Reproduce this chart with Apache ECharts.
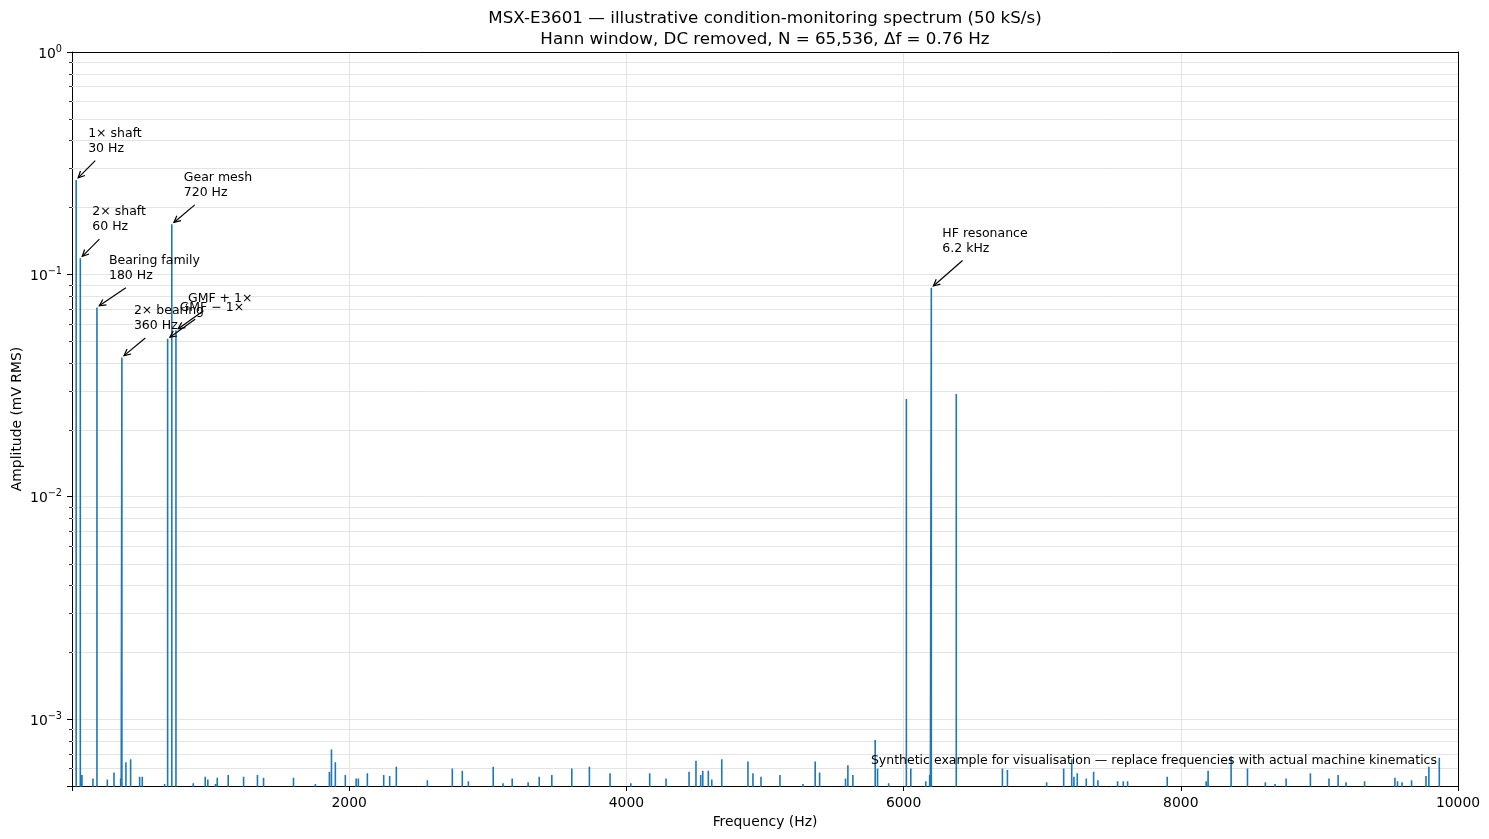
<!DOCTYPE html>
<html><head><meta charset="utf-8">
<script src="https://cdn.jsdelivr.net/npm/echarts@6/dist/echarts.min.js"></script>
<style>html,body{margin:0;padding:0;background:#fff}#c{width:1489px;height:839px}</style>
</head><body><div id="c"></div>
<script>
const FONT = '"DejaVu Sans"';

// ---- data ----
const peakFreqs = [30, 60, 180, 360, 690, 720, 750, 6020, 6200, 6380];
const peakAmps  = [0.266, 0.118, 0.071, 0.0423, 0.0513, 0.168, 0.056, 0.0275, 0.087, 0.029];

const noiseFreqs = [72, 151, 255, 303, 351, 389, 423, 488, 507, 668, 875, 961, 980, 1035, 1048, 1127, 1238, 1338, 1382,
  1598, 1756, 1857, 1872, 1900, 1972, 2050, 2066, 2131, 2249, 2292, 2340, 2564, 2744, 2816, 2860, 3039, 3110, 3176,
  3291, 3371, 3462, 3606, 3733, 3882, 4032, 4168, 4286, 4452, 4502, 4536, 4551, 4591, 4616, 4688, 4877, 4913, 4971,
  5108, 5274, 5362, 5394, 5581, 5598, 5634, 5795, 5812, 5892, 6052, 6160, 6188, 6713, 6749, 7032, 7155, 7213, 7229,
  7253, 7318, 7371, 7402, 7544, 7585, 7616, 7902, 8183, 8197, 8363, 8481, 8610, 8680, 8760, 8935, 9069, 9135, 9192,
  9326, 9545, 9564, 9596, 9665, 9769, 9790, 9865];
const noiseAmps = [5.6e-4, 5.4e-4, 5.35e-4, 5.75e-4, 5.4e-4, 6.4e-4, 6.6e-4, 5.5e-4, 5.5e-4, 5.1e-4, 5.15e-4, 5.5e-4, 5.35e-4, 5.1e-4, 5.45e-4, 5.6e-4, 5.5e-4, 5.6e-4, 5.45e-4,
  5.45e-4, 5.1e-4, 5.8e-4, 7.3e-4, 6.4e-4, 5.6e-4, 5.4e-4, 5.4e-4, 5.7e-4, 5.6e-4, 5.55e-4, 6.1e-4, 5.3e-4, 6.0e-4, 5.85e-4, 5.25e-4, 6.1e-4, 5.15e-4, 5.4e-4,
  5.2e-4, 5.5e-4, 5.6e-4, 6.0e-4, 6.1e-4, 5.7e-4, 5.15e-4, 5.7e-4, 5.4e-4, 5.8e-4, 6.5e-4, 5.6e-4, 5.85e-4, 5.85e-4, 5.35e-4, 6.6e-4, 6.45e-4, 5.7e-4, 5.5e-4,
  5.6e-4, 5.1e-4, 6.45e-4, 5.75e-4, 5.4e-4, 6.2e-4, 5.6e-4, 8.05e-4, 6.0e-4, 5.15e-4, 6.0e-4, 5.25e-4, 5.6e-4, 6.0e-4, 5.9e-4, 5.2e-4, 6.0e-4, 6.6e-4, 5.5e-4,
  5.7e-4, 5.4e-4, 5.8e-4, 5.3e-4, 5.25e-4, 5.25e-4, 5.25e-4, 5.5e-4, 5.25e-4, 5.85e-4, 6.8e-4, 6.0e-4, 5.2e-4, 5.1e-4, 5.4e-4, 5.7e-4, 5.4e-4, 5.6e-4, 5.2e-4,
  5.25e-4, 5.45e-4, 5.25e-4, 5.2e-4, 5.3e-4, 5.55e-4, 6.1e-4, 6.7e-4];

const annFreqs  = [30, 60, 180, 360, 750, 690, 720, 6200];
const annLabels = ['1\u00d7 shaft\n30 Hz', '2\u00d7 shaft\n60 Hz', 'Bearing family\n180 Hz', '2\u00d7 bearing\n360 Hz',
                   'GMF + 1\u00d7', 'GMF \u2212 1\u00d7', 'Gear mesh\n720 Hz', 'HF resonance\n6.2 kHz'];

const xTickValues = [0, 2000, 4000, 6000, 8000, 10000];
const yMinorTicks = [6e-4, 7e-4, 8e-4, 9e-4,
  2e-3, 3e-3, 4e-3, 5e-3, 6e-3, 7e-3, 8e-3, 9e-3,
  2e-2, 3e-2, 4e-2, 5e-2, 6e-2, 7e-2, 8e-2, 9e-2,
  2e-1, 3e-1, 4e-1, 5e-1, 6e-1, 7e-1, 8e-1, 9e-1];

const titleText = 'MSX-E3601 \u2014 illustrative condition-monitoring spectrum (50 kS/s)\nHann window, DC removed, N = 65,536, \u0394f = 0.76 Hz';
const noteText = 'Synthetic example for visualisation \u2014 replace frequencies with actual machine kinematics';

// ---- layout / style ----
const annOffsets = [[12,-24],[12,-24],[12,-24],[12,-24],[12,-24],[12,-24],[12,-24],[11,-32]];
const GRIDC = '#e4e4e4';
const BLUE = '#1f77b4';
const FLOOR = 1e-5;
const ANN_FS = 12.5, ANN_LH = 15;

const spikes = peakFreqs.map((f, i) => [f, peakAmps[i]])
  .concat(noiseFreqs.map((f, i) => [f, noiseAmps[i]]))
  .sort((a, b) => a[0] - b[0]);
const lineData = [];
spikes.forEach(s => { lineData.push([s[0], FLOOR], [s[0], s[1]], [s[0], FLOOR]); });

const annData = annFreqs.map(f => [f, peakAmps[peakFreqs.indexOf(f)]]);

const mctx = document.createElement('canvas').getContext('2d');
mctx.font = ANN_FS + 'px ' + FONT;
const measure = t => mctx.measureText(t).width;

const chart = echarts.init(document.getElementById('c'), null, {renderer: 'canvas'});

const frameAxis = {show: true, axisLine: {show: true, onZero: false, lineStyle: {color: '#000', width: 1}},
  axisTick: {show: false}, axisLabel: {show: false}, splitLine: {show: false}};

chart.setOption({
  animation: false,
  backgroundColor: '#fff',
  grid: {left: 72, right: 31, top: 52, bottom: 53, outerBoundsMode: 'none', containLabel: false},
  graphic: [
    {type: 'text', x: 765, y: 8, z: 10, style: {text: titleText, align: 'center', verticalAlign: 'top', font: '16.7px ' + FONT, lineHeight: 21, fill: '#000'}},
    {type: 'text', x: 1437, y: 761, z: 10, style: {text: noteText, align: 'right', verticalAlign: 'middle', font: '12.5px ' + FONT, fill: '#000'}}
  ],
  xAxis: [{
    type: 'value', min: 0, max: 10000, interval: 2000,
    name: 'Frequency (Hz)', nameLocation: 'middle', nameGap: 29, nameMoveOverlap: false,
    nameTextStyle: {fontFamily: 'DejaVu Sans', fontSize: 13.9, color: '#000'},
    axisLine: {show: true, onZero: false, lineStyle: {color: '#000', width: 1}},
    axisTick: {show: true, length: 5, lineStyle: {color: '#000', width: 1}},
    axisLabel: {margin: 10, color: '#000', fontFamily: 'DejaVu Sans', fontSize: 13.9,
      formatter: v => (xTickValues.indexOf(v) > 0 ? String(v) : '')},
    splitLine: {show: true, lineStyle: {color: GRIDC, width: 1}}
  }, Object.assign({type: 'value', position: 'top', min: 0, max: 1}, frameAxis)],
  yAxis: [{
    type: 'log', logBase: 10, min: 5e-4, max: 1,
    name: 'Amplitude (mV RMS)', nameLocation: 'middle', nameGap: 48, nameMoveOverlap: false,
    nameTextStyle: {fontFamily: 'DejaVu Sans', fontSize: 13.9, color: '#000'},
    axisLine: {show: true, onZero: false, lineStyle: {color: '#000', width: 1}},
    axisTick: {show: true, length: 5, lineStyle: {color: '#000', width: 1}},
    axisLabel: {margin: 10, color: '#000', fontFamily: 'DejaVu Sans', fontSize: 13.9,
      formatter: v => {
        const l = Math.log10(v), e = Math.round(l);
        if (Math.abs(l - e) > 1e-6) return '';
        return '{b|10}{s|' + (e < 0 ? '\u2212' + (-e) : String(e)) + '}';
      },
      rich: {
        b: {fontFamily: 'DejaVu Sans', fontSize: 13.9, color: '#000', padding: [4, 0, 0, 0]},
        s: {fontFamily: 'DejaVu Sans', fontSize: 9.7, color: '#000', padding: [0, 0, 6, 0]}
      }
    },
    splitLine: {show: true, lineStyle: {color: GRIDC, width: 1}}
  }, Object.assign({type: 'value', position: 'right', min: 0, max: 1}, frameAxis)],
  series: [
    {
      type: 'custom', name: 'minor', silent: true, z: 1, clip: false,
      data: yMinorTicks.map(v => [0, v]),
      encode: {x: 0, y: 1},
      renderItem: (params, api) => {
        const cs = params.coordSys;
        const y = Math.round(api.coord([0, api.value(1)])[1]) + 0.5;
        return {type: 'group', children: [
          {type: 'line', shape: {x1: cs.x, y1: y, x2: cs.x + cs.width, y2: y}, style: {stroke: GRIDC, lineWidth: 1}},
          {type: 'line', shape: {x1: cs.x - 3, y1: y, x2: cs.x, y2: y}, style: {stroke: '#000', lineWidth: 0.8}}
        ]};
      }
    },
    {
      type: 'line', name: 'spectrum', data: lineData, symbol: 'none', silent: true, z: 3, clip: true,
      lineStyle: {color: BLUE, width: 1.6}
    },
    {
      type: 'custom', name: 'annotations', silent: true, z: 5, clip: false,
      data: annData, encode: {x: 0, y: 1},
      renderItem: (params, api) => {
        const i = params.dataIndex;
        const p = api.coord([api.value(0), api.value(1)]);
        const off = annOffsets[i];
        const lines = annLabels[i].split('\n');
        const W = Math.max.apply(null, lines.map(measure));
        const H = lines.length * ANN_LH;
        const L = p[0] + off[0], B = p[1] + off[1], T = B - H;
        const cx = L + W / 2, cy = T + H / 2;
        const dx = p[0] - cx, dy = p[1] - cy, len = Math.hypot(dx, dy);
        const ux = dx / len, uy = dy / len;
        const PAD = 2.8, SHR = 2.8;
        const tb = Math.min(Math.abs(ux) > 1e-9 ? (W / 2 + PAD) / Math.abs(ux) : 1e9,
                            Math.abs(uy) > 1e-9 ? (H / 2 + PAD) / Math.abs(uy) : 1e9);
        const sx = cx + ux * (tb + SHR), sy = cy + uy * (tb + SHR);
        const ex = p[0] - ux * SHR, ey = p[1] - uy * SHR;
        const hl = 6.5, hw = 3.2;
        const bx = ex - ux * hl, by = ey - uy * hl, nx = -uy, ny = ux;
        return {type: 'group', children: [
          {type: 'line', shape: {x1: sx, y1: sy, x2: ex, y2: ey}, style: {stroke: '#000', lineWidth: 1.2}},
          {type: 'polyline', shape: {points: [[bx + nx * hw, by + ny * hw], [ex, ey], [bx - nx * hw, by - ny * hw]]},
           style: {stroke: '#000', lineWidth: 1.2, fill: 'none'}},
          {type: 'text', x: L, y: B, style: {text: annLabels[i], fill: '#000', font: ANN_FS + 'px ' + FONT,
            align: 'left', verticalAlign: 'bottom', lineHeight: ANN_LH}}
        ]};
      }
    }
  ]
});
</script></body></html>
